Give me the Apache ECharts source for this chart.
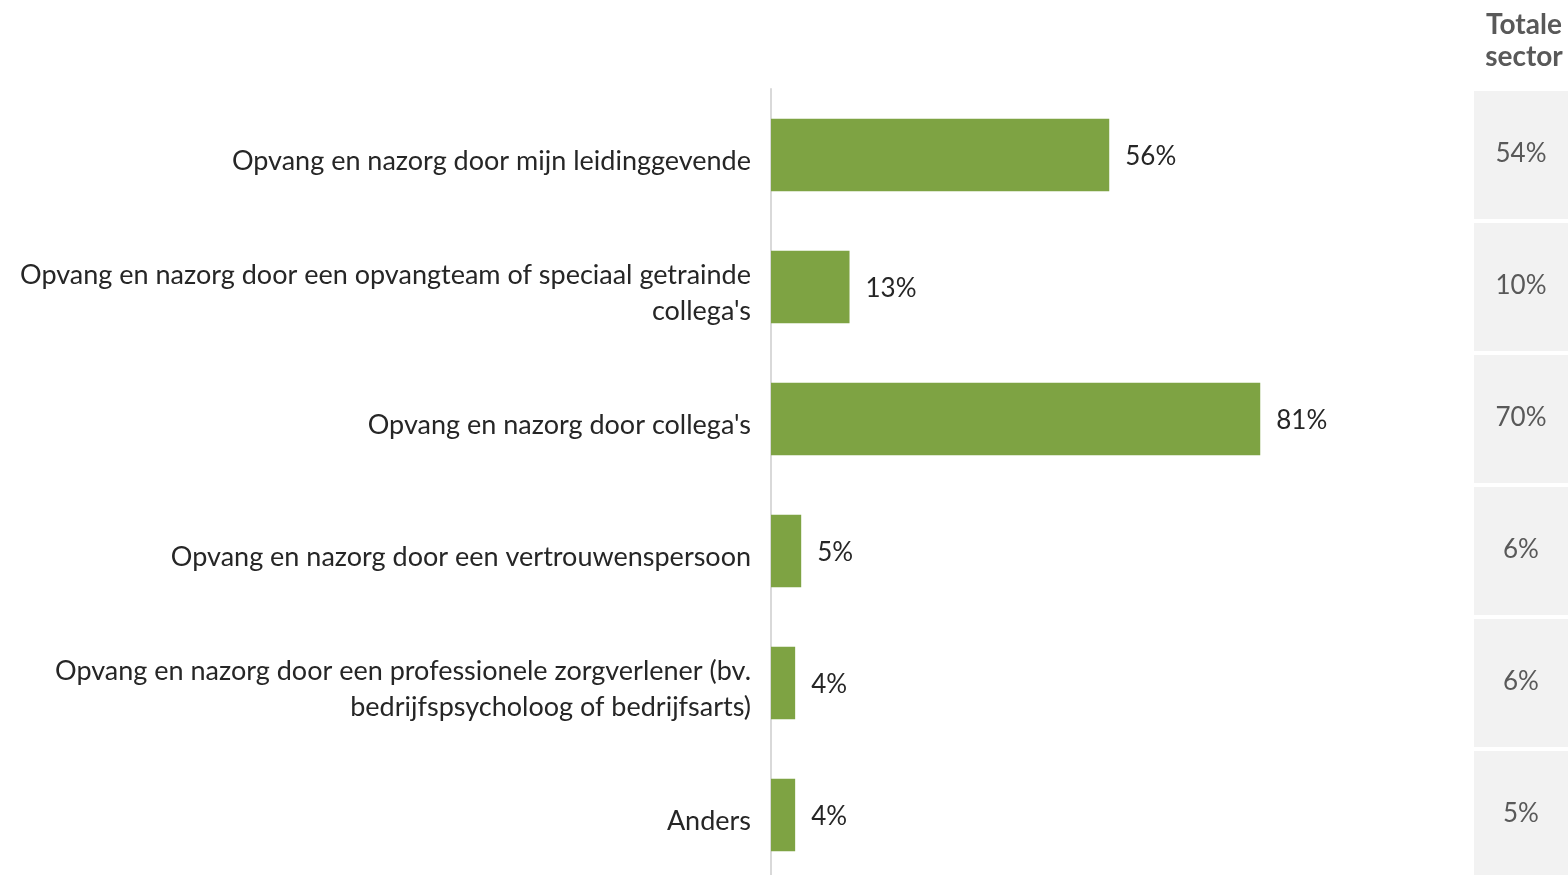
<!DOCTYPE html>
<html>
<head>
<meta charset="utf-8">
<script src="https://cdn.jsdelivr.net/npm/echarts@6/dist/echarts.min.js"></script>
<style>
  html, body { margin: 0; padding: 0; background: #fff; }
  #chart { width: 1568px; height: 875px; }
</style>
</head>
<body>
<div id="chart"></div>
<script>
const categories = [
  'Opvang en nazorg door mijn leidinggevende',
  "Opvang en nazorg door een opvangteam of speciaal getrainde\ncollega's",
  "Opvang en nazorg door collega's",
  'Opvang en nazorg door een vertrouwenspersoon',
  'Opvang en nazorg door een professionele zorgverlener (bv.\nbedrijfspsycholoog of bedrijfsarts)',
  'Anders',
];
const values = [56, 13, 81, 5, 4, 4];
const sectorValues = [54, 10, 70, 6, 6, 5];
const sectorHeader = 'Totale\nsector';

const font = 'Lato, "Open Sans", sans-serif';
const chart = echarts.init(document.getElementById('chart'), null, { renderer: 'canvas' });

chart.setOption({
  animation: false,
  backgroundColor: '#ffffff',
  textStyle: { fontFamily: font },
  title: {
    text: sectorHeader,
    left: 1519,
    top: 4,
    textAlign: 'center',
    textStyle: {
      fontFamily: font,
      fontSize: 28,
      fontWeight: 'bold',
      color: '#595959',
      lineHeight: 32,
      align: 'center',
    },
  },
  grid: [
    { left: 771, top: 89, width: 604, height: 792, outerBoundsMode: 'none' },
    { left: 1474, top: 89, width: 94, height: 792, outerBoundsMode: 'none' },
  ],
  xAxis: [
    { gridIndex: 0, type: 'value', min: 0, max: 100, show: false },
    { gridIndex: 1, type: 'value', min: 0, max: 1, show: false },
  ],
  yAxis: [
    {
      gridIndex: 0,
      type: 'category',
      inverse: true,
      data: categories,
      axisLine: { show: true, lineStyle: { color: '#d9d9d9', width: 2 } },
      axisTick: { show: false },
      axisLabel: { show: false },
    },
    {
      gridIndex: 1,
      type: 'category',
      inverse: true,
      data: categories,
      show: false,
    },
  ],
  series: [
    {
      type: 'bar',
      xAxisIndex: 0,
      yAxisIndex: 0,
      data: values,
      barWidth: '55%',
      itemStyle: { color: '#7ea343' },
      label: {
        show: true,
        position: 'right',
        distance: 16,
        offset: [0, 2],
        formatter: (p) => p.value + '%',
        fontFamily: font,
        fontSize: 26,
        color: '#262626',
      },
    },
    {
      // category names, placed left of the axis line
      type: 'bar',
      xAxisIndex: 0,
      yAxisIndex: 0,
      data: categories.map(() => 0),
      barWidth: '55%',
      barGap: '-100%',
      itemStyle: { color: 'transparent' },
      silent: true,
      label: {
        show: true,
        position: 'left',
        distance: 20,
        offset: [0, 6],
        formatter: (p) => categories[p.dataIndex],
        fontFamily: font,
        fontSize: 27,
        lineHeight: 36,
        align: 'right',
        color: '#262626',
      },
    },
    {
      type: 'bar',
      xAxisIndex: 1,
      yAxisIndex: 1,
      data: sectorValues.map(() => 1),
      barWidth: 128,
      itemStyle: { color: '#f2f2f2' },
      label: {
        show: true,
        position: 'inside',
        offset: [0, -1],
        formatter: (p) => sectorValues[p.dataIndex] + '%',
        fontFamily: font,
        fontSize: 26,
        color: '#595959',
      },
    },
  ],
});
</script>
</body>
</html>
